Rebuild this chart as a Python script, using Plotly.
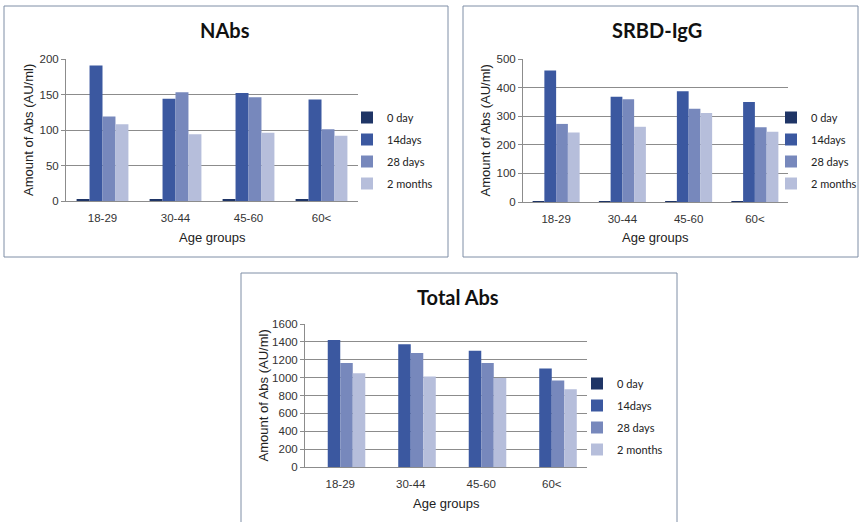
import plotly.graph_objects as go

age_groups = ["18-29", "30-44", "45-60", "60<"]
series_names = ["0 day", "14days", "28 days", "2 months"]
colors = ["#1f3566", "#3b58a0", "#7788bc", "#b6bedb"]

nabs_0day = [1.5, 1.5, 1.5, 1.5]
nabs_14days = [191, 144, 152, 143]
nabs_28days = [119, 153, 146, 101]
nabs_2months = [108, 94, 96, 92]

srbd_0day = [3, 3, 3, 3]
srbd_14days = [460, 368, 387, 350]
srbd_28days = [273, 359, 326, 261]
srbd_2months = [243, 263, 311, 246]

total_0day = [0, 0, 0, 0]
total_14days = [1421, 1373, 1302, 1101]
total_28days = [1165, 1276, 1165, 967]
total_2months = [1049, 1012, 997, 871]

panels = [
    ("NAbs", [nabs_0day, nabs_14days, nabs_28days, nabs_2months], [0, 200], 50),
    ("SRBD-IgG", [srbd_0day, srbd_14days, srbd_28days, srbd_2months], [0, 500], 100),
    ("Total Abs", [total_0day, total_14days, total_28days, total_2months], [0, 1600], 200),
]

W, H = 864, 522
def fx(px):
    return px / W
def fy(py):
    return 1 - py / H

# plot areas in pixel coords (x0, x1, ytop, ybottom)
areas = [(66, 358, 59, 201), (523, 788, 59, 202), (305, 587, 324, 467)]
frames = [(4, 448, 6, 257), (463, 858, 6, 257), (241, 677, 273, 530)]
titles_pos = [(225, 30), (657, 30), (458, 297)]
legend_pos = [(347, 103), (771, 103), (577, 369)]
ytitle_x = [28, 485, 263]
xtitle_y = [237, 237, 503]

fig = go.Figure()
font_main = "Liberation Sans, Arial, sans-serif"
font_cal = "Lato, Open Sans, sans-serif"

def note(x, y, text, font, angle=0):
    fig.add_annotation(x=x, y=y, xref="paper", yref="paper", text=text,
                       showarrow=False, textangle=angle, font=font,
                       xanchor="center", yanchor="middle")

for i, (title, data, yr, dt) in enumerate(panels):
    ax = "" if i == 0 else str(i + 1)
    leg = "legend" if i == 0 else f"legend{i+1}"
    for j, vals in enumerate(data):
        fig.add_trace(go.Bar(
            x=age_groups, y=vals, name=series_names[j],
            marker=dict(color=colors[j], line=dict(width=0)),
            xaxis="x" + ax, yaxis="y" + ax, legend=leg,
            legendgroup=f"g{i}_{j}",
            hovertemplate="%{x}: %{y}<extra>" + series_names[j] + "</extra>",
        ))
    x0, x1, yt, yb = areas[i]
    fig.layout["xaxis" + ax] = dict(
        domain=[fx(x0), fx(x1)], anchor="y" + ax,
        showline=True, linecolor="#8c8c8c", linewidth=1,
        ticks="", ticklabelstandoff=6,
        tickfont=dict(family=font_main, size=11.5, color="#333333"),
        showgrid=False, zeroline=False, fixedrange=True, automargin=False,
    )
    fig.layout["yaxis" + ax] = dict(
        domain=[fy(yb), fy(yt)], anchor="x" + ax, range=yr, dtick=dt,
        showline=True, linecolor="#8c8c8c", linewidth=1,
        ticks="outside", ticklen=4, tickcolor="#8c8c8c",
        showgrid=True, gridcolor="#8c8c8c", gridwidth=1, zeroline=False,
        tickfont=dict(family=font_main, size=11.5, color="#333333"),
        fixedrange=True, automargin=False,
    )
    lx, ly = legend_pos[i]
    fig.layout[leg] = dict(
        x=fx(lx), y=fy(ly), xanchor="left", yanchor="top",
        font=dict(family=font_cal, size=11, color="#222222"),
        bgcolor="rgba(0,0,0,0)", traceorder="grouped", tracegroupgap=3,
        itemwidth=30,
    )
    tx, ty = titles_pos[i]
    note(fx(tx), fy(ty), f"<b>{title}</b>", dict(family=font_cal, size=20, color="#111111"))
    note(fx(ytitle_x[i]), fy((yt + yb) / 2), "Amount of Abs (AU/ml)",
         dict(family=font_main, size=13, color="#222222"), angle=-90)
    note(fx((x0 + x1) / 2), fy(xtitle_y[i]), "Age groups",
         dict(family=font_main, size=13, color="#222222"))
    fx0, fx1, fy0, fy1 = frames[i]
    fig.add_shape(type="rect", xref="paper", yref="paper",
                  x0=fx(fx0), x1=fx(fx1), y0=fy(fy1), y1=fy(fy0),
                  line=dict(color="#7e8ea6", width=1), fillcolor="rgba(0,0,0,0)",
                  layer="below")

fig.update_layout(
    width=W, height=H, margin=dict(l=0, r=0, t=0, b=0, pad=0, autoexpand=False),
    paper_bgcolor="white", plot_bgcolor="white",
    barmode="group", bargap=0.29, bargroupgap=0,
    showlegend=True,
)

fig.write_html("out.html", config={"displayModeBar": False},
               post_script="document.body.style.margin='0';document.body.style.overflow='hidden';")
